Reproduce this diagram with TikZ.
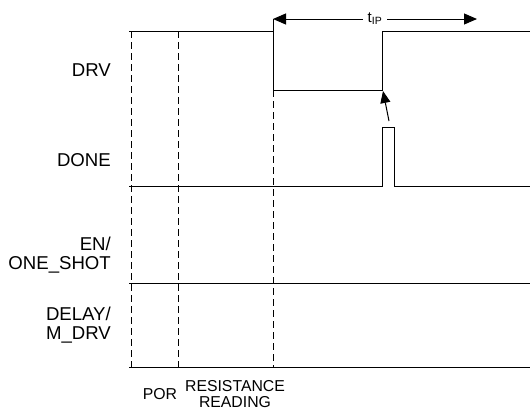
\documentclass[tikz,border=0pt]{standalone}
\usepackage{fontspec}
\setmainfont{Liberation Sans}
\usetikzlibrary{arrows.meta}
\tikzset{
  wave/.style={line width=1pt},
  marker/.style={line width=0.8pt, dash pattern=on 7pt off 4pt},
  sig/.style={font=\fontsize{18.6}{18.5}\selectfont, align=right, anchor=east, inner sep=0pt},
  phase/.style={font=\fontsize{15.8}{16}\selectfont, align=center, inner sep=0pt},
  dimline/.style={line width=1pt, -{Triangle[length=13pt,width=11pt]}},
  cause/.style={line width=1pt, -{Triangle[length=12pt,width=10pt]}},
}
\begin{document}
\begin{tikzpicture}[x=1pt,y=-1pt]
\useasboundingbox (0,0) rectangle (530,407);
% signal names
\node[sig] (drv) at (111,70) {DRV};
\node[sig] (done) at (111,160) {DONE};
\node[sig] (en) at (111,255) {EN/\\ONE\_SHOT};
\node[sig] (delay) at (111,325) {DELAY/\\M\_DRV};
% phases
\node[phase] (por) at (160,394) {POR};
\node[phase] (res) at (235,394.5) {RESISTANCE\\READING};
% phase markers
\draw[marker] (131,31) -- (131,367);
\draw[marker] (178,31) -- (178,367);
\draw[marker] (273,90) -- (273,367);
% waveforms
\draw[wave] (129,31) -- (273,31) -- (273,90) -- (382,90) -- (382,31) -- (530,31);
\draw[wave] (273,31) -- (273,19);
\draw[wave] (129,186) -- (382,186) -- (382,127) -- (394,127) -- (394,186) -- (530,186);
\draw[wave] (129,283) -- (530,283);
\draw[wave] (129,367) -- (530,367);
% t_IP
\coordinate (tstart) at (273,19);
\coordinate (tend) at (477,19);
\node[font=\fontsize{15}{16}\selectfont, inner xsep=5pt, inner ysep=0pt] (tip) at (375,19) {t\textsubscript{IP}};
\draw[dimline] (tip.west) -- (tstart);
\draw[dimline] (tip.east) -- (tend);
% DONE triggers DRV
\coordinate (pulse) at (389,121);
\coordinate (edge) at (383,91);
\draw[cause] (pulse) -- (edge);
\end{tikzpicture}
\end{document}
